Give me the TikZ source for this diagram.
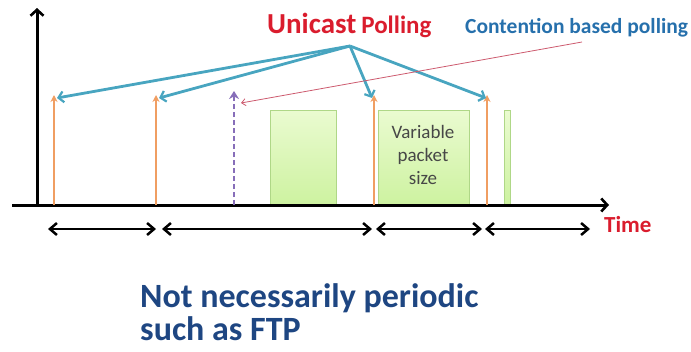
\documentclass[tikz,border=0pt]{standalone}
\usepackage{fontspec}
\setmainfont{Carlito}
\usetikzlibrary{arrows.meta}
\definecolor{pollred}{RGB}{218,28,45}
\definecolor{pollblue}{RGB}{38,112,172}
\definecolor{deepblue}{RGB}{30,70,130}
\definecolor{teal}{RGB}{72,165,192}
\definecolor{orng}{RGB}{240,158,98}
\definecolor{purp}{RGB}{135,110,185}
\definecolor{pinkline}{RGB}{205,90,110}
\definecolor{boxtop}{RGB}{234,251,208}
\definecolor{boxbot}{RGB}{205,242,160}
\definecolor{boxedge}{RGB}{175,215,135}
\tikzset{
  axis/.style={line width=3pt, -{Straight Barb[length=6pt,width=13pt,line width=2.6pt]}},
  span/.style={line width=2.8pt, {Straight Barb[length=7pt,width=12pt,line width=2.5pt]}-{Straight Barb[length=7pt,width=12pt,line width=2.5pt]}},
  poll/.style={orng, line width=2.3pt, -{Stealth[length=7pt,width=7pt]}},
  cpoll/.style={purp, line width=2.8pt, dashed, dash pattern=on 5pt off 3pt, -{Stealth[length=8pt,width=10pt]}},
  grant/.style={teal, line width=2.8pt, -{Straight Barb[length=5pt,width=11pt,line width=2.2pt]}},
  hint/.style={pinkline, line width=0.8pt, -{Straight Barb[length=4pt,width=7pt]}},
  pkt/.style={draw=boxedge, line width=0.8pt, top color=boxtop, bottom color=boxbot},
}
\begin{document}
\begin{tikzpicture}[x=1pt,y=-1pt]
\useasboundingbox (0,0) rectangle (691,351);

% packets on the time line
\node[pkt, minimum width=66pt, minimum height=95pt, inner sep=0pt, anchor=north west] (p1) at (270,110) {};
\node[pkt, minimum width=91pt, minimum height=95pt, inner sep=0pt, anchor=north west] (p2) at (378,110) {};
\node[pkt, minimum width=6pt, minimum height=95pt, inner sep=0pt, anchor=north west] (p3) at (504,110) {};
\node[font=\fontsize{19}{23}\selectfont, text=black!72, align=center, anchor=north, inner sep=0pt] (p2txt) at (423,125)
  {Variable\\packet\\size};

% axes
\coordinate (o) at (37,205);
\coordinate (ytop) at (37,8);
\coordinate (xl) at (12,205);
\coordinate (xr) at (609,205);
\draw[axis] (o) -- (ytop);
\draw[axis] (xl) -- (xr);
\node[font=\fontsize{23}{26}\selectfont\bfseries, text=pollred, anchor=base west, inner sep=0pt] (time) at (604,232) {Time};

% unicast polls
\foreach \n/\x in {a/54,b/156,c/374,d/487}{
  \coordinate (\n0) at (\x,205);
  \coordinate (\n1) at (\x,95);
  \draw[poll] (\n0) -- (\n1);
}
% contention-based poll
\coordinate (e0) at (234,205);
\coordinate (e1) at (234,91);
\draw[cpoll] (e0) -- (e1);

% labels
\node[font=\bfseries, text=pollred, anchor=base west, inner sep=0pt] (uni) at (267,33)
  {{\fontsize{29}{32}\selectfont Unicast}\hspace{5pt}{\fontsize{25}{28}\selectfont Polling}};
\node[font=\fontsize{21.5}{24}\selectfont\bfseries, text=pollblue, anchor=base west, inner sep=0pt] (cont) at (465,33)
  {Contention based polling};

\coordinate (hub) at (350,46);
\draw[grant] (hub) -- (57,98);
\draw[grant] (hub) -- (159,98);
\draw[grant] (hub) -- (372,98);
\draw[grant] (hub) -- (486,98);

\coordinate (hs) at (582,42);
\draw[hint] (hs) -- (241,103);

% polling intervals
\coordinate (s0) at (48,229);
\coordinate (s1) at (156,229);
\coordinate (s2) at (162,229);
\coordinate (s3) at (372,229);
\coordinate (s4) at (376,229);
\coordinate (s5) at (482,229);
\coordinate (s6) at (485,229);
\coordinate (s7) at (590,229);
\draw[span] (s0) -- (s1);
\draw[span] (s2) -- (s3);
\draw[span] (s4) -- (s5);
\draw[span] (s6) -- (s7);

\node[font=\fontsize{34}{36}\selectfont\bfseries, text=deepblue, anchor=base west, inner sep=0pt] (note1) at (140,307)
  {Not necessarily periodic};
\node[font=\fontsize{34}{36}\selectfont\bfseries, text=deepblue, anchor=base west, inner sep=0pt] (note2) at (140,340)
  {such as FTP};
\end{tikzpicture}
\end{document}
